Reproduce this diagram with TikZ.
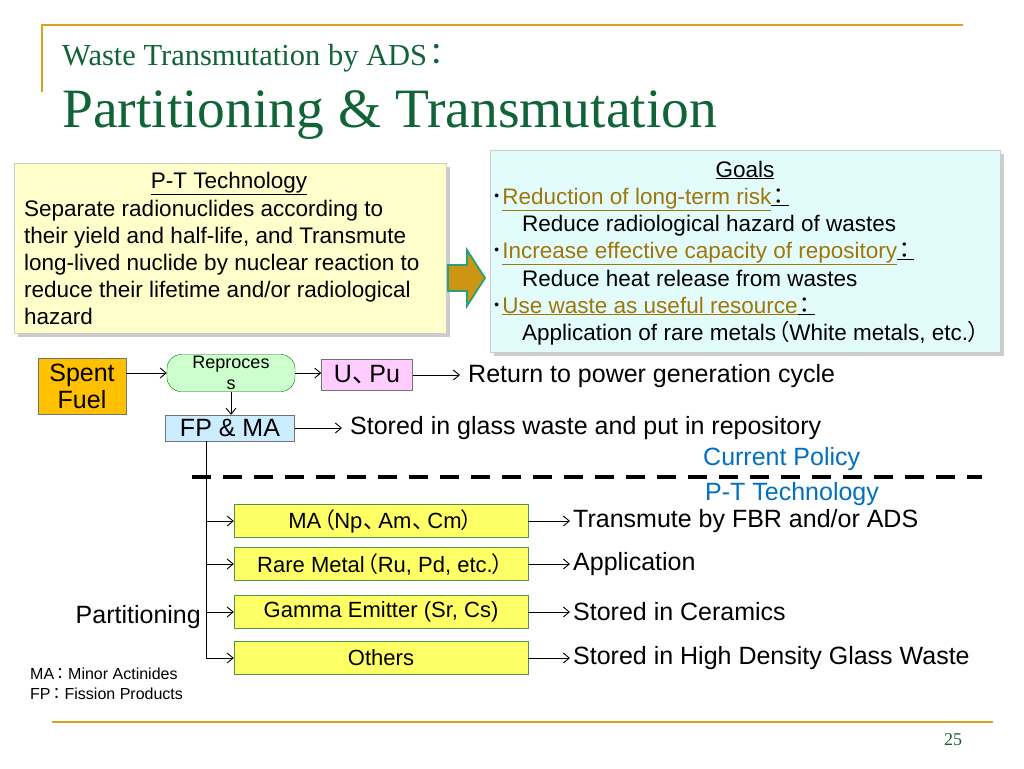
\documentclass[tikz,border=0pt]{standalone}
\usepackage{fontspec}
\setmainfont{Liberation Sans}
\newfontfamily\slideserif{Liberation Serif}
\newfontfamily\cjk[RawFeature=+palt]{Noto Sans CJK JP}
\newcommand\jcomma{\kern1pt{\cjk 、}\kern4pt}
\newcommand\jlpar{\kern2pt{\cjk （}}
\newcommand\jrpar{{\cjk ）}\kern1pt}
\newcommand\jcolon{\kern2pt{\cjk ：}\kern4pt}
\usetikzlibrary{arrows.meta,positioning,shapes.arrows,shadows}
\definecolor{slideGold}{RGB}{214,164,34}
\definecolor{slideGreen}{RGB}{16,100,56}
\definecolor{goalLink}{RGB}{160,118,10}
\definecolor{policyBlue}{RGB}{0,112,192}
\definecolor{PaleYellow}{RGB}{255,255,204}
\definecolor{PaleCyan}{RGB}{226,252,252}
\definecolor{FuelOrange}{RGB}{255,192,0}
\definecolor{ReproGreen}{RGB}{204,255,204}
\definecolor{UPuPink}{RGB}{255,204,255}
\definecolor{FPBlue}{RGB}{204,236,255}
\definecolor{PartYellow}{RGB}{255,255,102}
\definecolor{arrowFill}{RGB}{204,150,20}
\definecolor{arrowEdge}{RGB}{40,160,120}

\begin{document}
\begin{tikzpicture}[x=1pt,y=-1pt,
      bigbox/.style={draw=black!20,minimum width=432pt,minimum height=170pt,inner sep=0pt,
        drop shadow={shadow xshift=4pt,shadow yshift=-4pt,opacity=0.4}},
      body/.style={anchor=base west,inner sep=0pt,font=\fontsize{22.5}{27}\selectfont},
      flowbox/.style={draw=black!55,inner sep=0pt,align=center,font=\fontsize{25}{27}\selectfont},
      partbox/.style={draw=green!40!black!70,fill=PartYellow,minimum width=294pt,minimum height=33pt,
        inner sep=0pt,font=\fontsize{22}{26}\selectfont},
      outtext/.style={anchor=west,inner xsep=8pt,inner ysep=0pt,font=\fontsize{25}{28}\selectfont},
      flow/.style={-{Straight Barb[length=6pt,width=10pt]},line width=0.9pt},
      goldline/.style={slideGold,line width=1.6pt}]
    \useasboundingbox[fill=white] (0,0) rectangle (1024,768);

    % Cadre de la diapositive.
    \draw[goldline] (42,92) -- (42,25) -- (963,25);
    \draw[goldline] (52,722) -- (993,722);
    \node[anchor=base west,inner sep=0pt,text=slideGreen,font=\slideserif\fontsize{30.5}{33}\selectfont]
      (subtitle) at (62,66) {Waste Transmutation by ADS\jcolon};
    \node[anchor=base west,inner sep=0pt,text=slideGreen,font=\slideserif\fontsize{55.5}{60}\selectfont]
      (title) at (62,127) {Partitioning \& Transmutation};
    \node[text=slideGreen,font=\slideserif\fontsize{18}{20}\selectfont] (pagenum) at (953,740) {25};

    % Principe P-T et objectifs.
    \node[bigbox,fill=PaleYellow] (ptbox) at (230,248) {};
    \node[body,anchor=base] (pthead) at (229,188) {\underline{P-T Technology}};
    \node[body] (pt1) at (24,216) {Separate radionuclides according to};
    \node[body] (pt2) at (24,243) {their yield and half-life, and Transmute};
    \node[body] (pt3) at (24,270) {long-lived nuclide by nuclear reaction to};
    \node[body] (pt4) at (24,297) {reduce their lifetime and/or radiological};
    \node[body] (pt5) at (24,324) {hazard};

    \node[bigbox,fill=PaleCyan,minimum width=510pt,minimum height=202pt] (goals) at (745,251) {};
    \node[body,anchor=base] (goalhead) at (745,177) {\underline{Goals}};
    \node[body] (g1) at (491,204)
      {{\cjk ･}\textcolor{goalLink}{\underline{Reduction of long-term risk}}\underline{\jcolon}};
    \node[body] (g2) at (522,231) {Reduce radiological hazard of wastes};
    \node[body] (g3) at (491,258)
      {{\cjk ･}\textcolor{goalLink}{\underline{Increase effective capacity of repository}}\underline{\jcolon}};
    \node[body] (g4) at (522,286) {Reduce heat release from wastes};
    \node[body] (g5) at (491,313)
      {{\cjk ･}\textcolor{goalLink}{\underline{Use waste as useful resource}}\underline{\jcolon}};
    \node[body] (g6) at (522,340) {Application of rare metals\jlpar White metals, etc.\jrpar};

    % grosse fleche entre les deux cadres
    \draw[draw=arrowEdge,line width=1.8pt,fill=arrowFill,line join=miter]
      (448,265) -- (467,265) -- (467,250) -- (485,278) -- (467,306) -- (467,291) -- (448,291) -- cycle;

    % Cycle actuel.
    \node[flowbox,fill=FuelOrange,minimum width=88pt,minimum height=56pt] (spent) at (82,386) {Spent\\Fuel};
    \node[flowbox,draw=green!45!black,fill=ReproGreen,rounded corners=14pt,minimum width=128pt,
      minimum height=37pt,font=\fontsize{18}{21}\selectfont] (repro) at (231,373) {Reproces\\s};
    \node[flowbox,fill=UPuPink,minimum width=91pt,minimum height=31pt] (upu) at (367,375) {U\jcomma Pu};
    \node[flowbox,fill=FPBlue,minimum width=129pt,minimum height=26pt] (fpma) at (230,428) {FP \& MA};
    \node[outtext] (ret) at (460,376) {Return to power generation cycle};
    \node[outtext] (glass) at (342,428) {Stored in glass waste and put in repository};
    \draw[flow] (spent.east |- repro.west) -- (repro.west);
    \draw[flow] (repro.east) -- (repro.east -| upu.west);
    \draw[flow] (upu.east) -- (upu.east -| ret.west);
    \draw[flow] (repro.south) -- (repro.south |- fpma.north);
    \draw[flow] (fpma.east) -- (glass.west);

    \node[outtext,text=policyBlue] (policy) at (695,459) {Current Policy};
    \draw[line width=3.6pt,dash pattern=on 19pt off 12pt] (192,477) -- (982,477);
    \node[outtext,text=policyBlue] (ptlabel) at (697,494) {P-T Technology};

    % Separation poussee.
    \node[partbox] (ma) at (381,521) {MA\jlpar Np\jcomma Am\jcomma Cm\jrpar};
    \node[partbox] (rare) at (381,564) {Rare Metal\jlpar Ru, Pd, etc.\jrpar};
    \node[partbox] (gamma) at (381,612) {Gamma Emitter (Sr, Cs)};
    \node[partbox] (others) at (381,658) {Others};
    \node[outtext,inner xsep=3pt] (fbr) at (570,521) {Transmute by FBR and/or ADS};
    \node[outtext,inner xsep=3pt] (appl) at (570,564) {Application};
    \node[outtext,inner xsep=3pt] (ceram) at (570,612) {Stored in Ceramics};
    \node[outtext,inner xsep=3pt] (hdglass) at (570,658) {Stored in High Density Glass Waste};
    \node[outtext,anchor=east,inner xsep=4pt] (partit) at (205,617) {Partitioning};

    \coordinate (trunk) at (206,441);
    \draw[line width=0.9pt] (trunk) -- (trunk |- others.west);
    \foreach \b/\r in {ma/fbr,rare/appl,gamma/ceram,others/hdglass}{
      \draw[flow] (trunk |- \b.west) -- (\b.west);
      \draw[flow] (\b.east) -- (\r.west);
    }

    \node[anchor=west,inner sep=0pt,font=\fontsize{16}{18}\selectfont] (legma) at (30,674)
      {MA\jcolon Minor Actinides};
    \node[anchor=west,inner sep=0pt,font=\fontsize{16}{18}\selectfont] (legfp) at (30,694)
      {FP\jcolon Fission Products};
  \end{tikzpicture}
\end{document}
